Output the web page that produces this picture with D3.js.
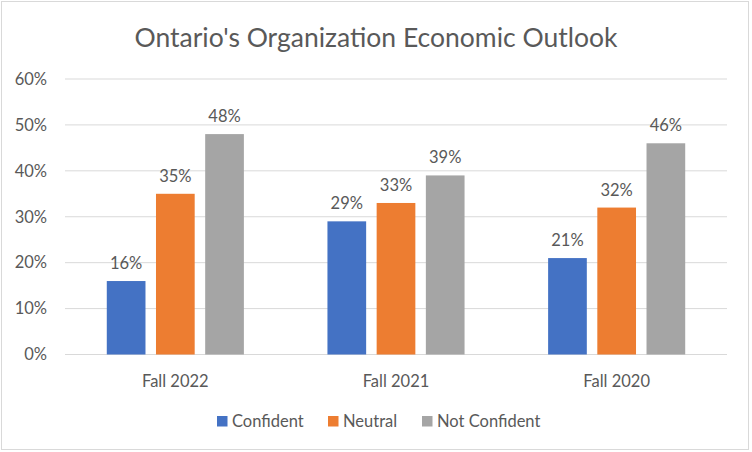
<!DOCTYPE html>
<html><head><meta charset="utf-8">
<script src="https://cdn.jsdelivr.net/npm/d3@7"></script>
<style>body{margin:0;background:#fff}svg{display:block}text{font-family:Lato,"Open Sans",sans-serif;fill:#595959}</style>
</head><body><svg id="c" width="752" height="452"></svg>
<script>
const categories = ["Fall 2022", "Fall 2021", "Fall 2020"];
const seriesNames = ["Confident", "Neutral", "Not Confident"];
const confident = [16, 29, 21];
const neutral = [35, 33, 32];
const notConfident = [48, 39, 46];
const yTicks = [0, 10, 20, 30, 40, 50, 60];
const colors = ["#4472c4", "#ed7d31", "#a5a5a5"];
const seriesValues = [confident, neutral, notConfident];

const svg = d3.select("#c");
svg.append("rect").attr("x",1.5).attr("y",1.5).attr("width",747).attr("height",448)
  .attr("fill","#fff").attr("stroke","#d9d9d9");

const pLeft = 65, pRight = 727, pTop = 79, pBottom = 354.5;
const x = d3.scaleBand().domain(categories).range([pLeft, pRight]);
const y = d3.scaleLinear().domain([0, 60]).range([pBottom, pTop]);
const barW = 38.7, step = 49.2;

svg.append("text").attr("x", 376).attr("y", 47).attr("text-anchor","middle")
  .style("font-size","26.5px").text("Ontario's Organization Economic Outlook");

const grid = svg.append("g");
yTicks.forEach(t => {
  grid.append("line").attr("x1", pLeft).attr("x2", pRight).attr("y1", y(t)).attr("y2", y(t))
    .attr("stroke","#d9d9d9").attr("stroke-width",1);
  grid.append("text").attr("x", 47).attr("y", y(t)).attr("dy","0.35em").attr("text-anchor","end")
    .style("font-size","16.5px").text(t + "%");
});

categories.forEach((c, i) => {
  const cx = x(c) + x.bandwidth()/2;
  seriesValues.forEach((vals, s) => {
    const bx = cx + (s - 1) * step - barW/2;
    svg.append("rect").attr("x", bx).attr("y", y(vals[i])).attr("width", barW)
      .attr("height", y(0) - y(vals[i])).attr("fill", colors[s]);
    svg.append("text").attr("x", bx + barW/2).attr("y", y(vals[i]) - 12)
      .attr("text-anchor","middle").style("font-size","16.5px").text(vals[i] + "%");
  });
  svg.append("text").attr("x", cx).attr("y", 381).attr("dy","0.35em").attr("text-anchor","middle")
    .style("font-size","16.5px").text(c);
});

const legendX = [217, 328, 422];
seriesNames.forEach((n, s) => {
  svg.append("rect").attr("x", legendX[s]).attr("y", 416).attr("width", 10.5).attr("height", 10.5).attr("fill", colors[s]);
  svg.append("text").attr("x", legendX[s] + 15).attr("y", 421).attr("dy","0.35em")
    .style("font-size","16.5px").text(n);
});
</script></body></html>
